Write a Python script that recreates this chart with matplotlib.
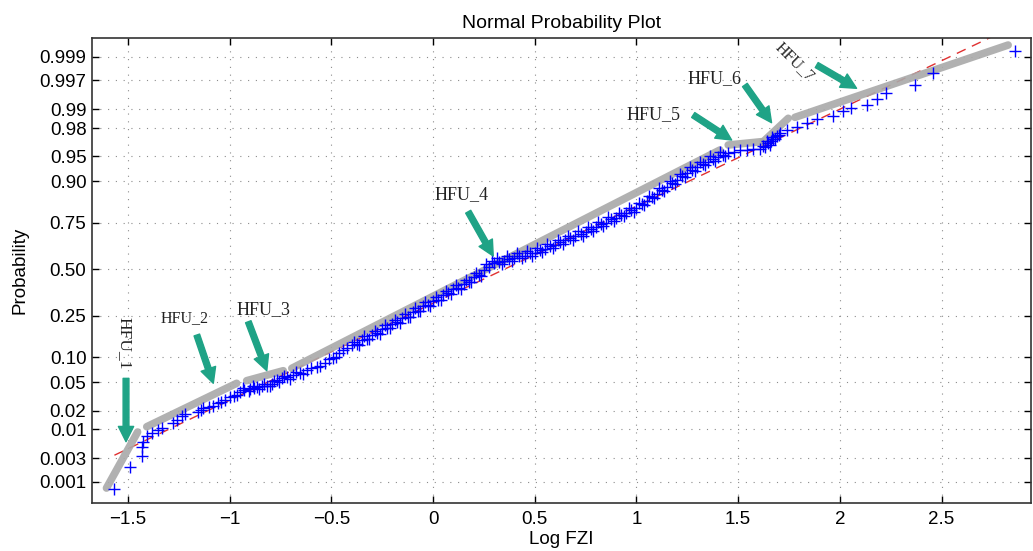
import math
import numpy as np
import matplotlib
matplotlib.use("Agg")
import matplotlib.pyplot as plt

# sample points: Log FZI and normal quantile (position on the probability axis)
lower_x = [-1.566, -1.489, -1.431, -1.431, -1.425, -1.404, -1.38, -1.35, -1.33,
           -1.276, -1.26, -1.235, -1.22, -1.153, -1.14, -1.129, -1.10, -1.08,
           -1.055, -1.04, -1.022, -0.998, -0.98, -0.965, -0.948, -0.93, -0.90,
           -0.88, -0.866, -0.84, -0.817, -0.79, -0.768, -0.74, -0.719, -0.69,
           -0.654, -0.62, -0.572, -0.53, -0.49, -0.46, -0.424]
lower_z = [-3.20, -2.88, -2.71, -2.58, -2.51, -2.43, -2.38, -2.34, -2.30,
           -2.24, -2.19, -2.13, -2.10, -2.07, -2.05, -2.02, -2.00, -1.99,
           -1.95, -1.93, -1.90, -1.86, -1.84, -1.83, -1.78, -1.76, -1.74,
           -1.73, -1.715, -1.70, -1.69, -1.66, -1.61, -1.58, -1.56, -1.54,
           -1.51, -1.47, -1.42, -1.36, -1.29, -1.22, -1.15]

# extra points in the dense stretch near 0.05
lower2_x = [-0.935, -0.905, -0.885, -0.855, -0.83, -0.80, -0.78, -0.755, -0.73,
            -0.705, -0.675, -0.64, -0.60, -0.555, -0.51, -0.475, -0.44]
lower2_z = [-1.73, -1.77, -1.70, -1.74, -1.66, -1.70, -1.62, -1.64, -1.55,
            -1.60, -1.49, -1.52, -1.43, -1.41, -1.30, -1.28, -1.17]

core_x = [-0.40, -0.375, -0.35, -0.325, -0.30, -0.275, -0.25, -0.225, -0.20,
          -0.175, -0.15, -0.125, -0.10, -0.075, -0.05, -0.025, 0.0, 0.025,
          0.05, 0.075, 0.10, 0.125, 0.15, 0.175, 0.20, 0.225, 0.25, 0.275,
          0.30, 0.325, 0.35, 0.375, 0.40, 0.425, 0.45, 0.475, 0.50, 0.525,
          0.55, 0.575, 0.60, 0.625, 0.65, 0.675, 0.70, 0.725, 0.75, 0.775,
          0.80, 0.825, 0.85, 0.875, 0.90, 0.925, 0.95, 0.975, 1.00, 1.025,
          1.05, 1.075, 1.10, 1.125, 1.15, 1.175, 1.20, 1.225, 1.25, 1.275,
          1.30, 1.325, 1.35, 1.375, 1.40, 1.425, 1.45]
core_z = [-1.10, -1.09, -1.03, -1.01, -0.95, -0.93, -0.87, -0.85, -0.79,
          -0.77, -0.71, -0.69, -0.62, -0.60, -0.54, -0.52, -0.46, -0.44,
          -0.38, -0.35, -0.29, -0.27, -0.21, -0.18, -0.11, -0.08, -0.01, 0.04,
          0.09, 0.11, 0.12, 0.15, 0.16, 0.19, 0.20, 0.23, 0.24, 0.28,
          0.30, 0.34, 0.36, 0.40, 0.42, 0.46, 0.48, 0.52, 0.54, 0.59,
          0.61, 0.66, 0.68, 0.73, 0.75, 0.79, 0.82, 0.86, 0.89, 0.95,
          0.99, 1.05, 1.10, 1.16, 1.20, 1.26, 1.30, 1.36, 1.40, 1.45,
          1.48, 1.53, 1.56, 1.61, 1.63, 1.66, 1.69]

# second row of the dense band, between the points above
core2_x = [-0.3875, -0.3625, -0.3375, -0.3125, -0.2875, -0.2625, -0.2375,
           -0.2125, -0.1875, -0.1625, -0.1375, -0.1125, -0.0875, -0.0625,
           -0.0375, -0.0125, 0.0125, 0.0375, 0.0625, 0.0875, 0.1125, 0.1375,
           0.1625, 0.1875, 0.2125, 0.2375, 0.2625, 0.2875, 0.3125, 0.3375,
           0.3625, 0.3875, 0.4125, 0.4375, 0.4625, 0.4875, 0.5125, 0.5375,
           0.5625, 0.5875, 0.6125, 0.6375, 0.6625, 0.6875, 0.7125, 0.7375,
           0.7625, 0.7875, 0.8125, 0.8375, 0.8625, 0.8875, 0.9125, 0.9375,
           0.9625, 0.9875, 1.0125, 1.0375, 1.0625, 1.0875, 1.1125, 1.1375,
           1.1625, 1.1875, 1.2125, 1.2375, 1.2625, 1.2875, 1.3125, 1.3375,
           1.3625, 1.3875, 1.4125, 1.4375]
core2_z = [-1.05, -1.10, -0.97, -1.02, -0.89, -0.94, -0.81, -0.86, -0.73,
           -0.78, -0.65, -0.70, -0.56, -0.61, -0.48, -0.53, -0.40, -0.45,
           -0.32, -0.36, -0.23, -0.28, -0.15, -0.19, -0.05, -0.09, 0.08,
           0.12, 0.16, 0.08, 0.19, 0.12, 0.23, 0.16, 0.27, 0.20, 0.31, 0.25,
           0.37, 0.31, 0.43, 0.37, 0.49, 0.43, 0.55, 0.49, 0.62, 0.56, 0.69,
           0.63, 0.76, 0.70, 0.82, 0.77, 0.89, 0.84, 0.97, 0.93, 1.07, 1.04,
           1.18, 1.14, 1.28, 1.24, 1.38, 1.34, 1.48, 1.43, 1.56, 1.51, 1.64,
           1.58, 1.70, 1.64]

upper_x = [1.48, 1.509, 1.541, 1.574, 1.607, 1.62, 1.63, 1.64, 1.646, 1.655,
           1.66, 1.665, 1.672, 1.68, 1.69, 1.70, 1.705, 1.738, 1.787, 1.836,
           1.885, 1.967, 2.016, 2.057, 2.131, 2.18, 2.229, 2.369, 2.459, 2.86]
upper_z = [1.71, 1.73, 1.74, 1.75, 1.75, 1.79, 1.78, 1.86, 1.83, 1.81,
           1.87, 1.92, 1.90, 1.89, 1.94, 1.95, 1.98, 2.02, 2.07, 2.13,
           2.18, 2.23, 2.30, 2.34, 2.39, 2.48, 2.56, 2.68, 2.85, 3.18]

# normal fit behind the dashed reference line
fit_mu = 0.35
fit_sigma = 0.709

# grey HFU segments (Log FZI start/end, quantile start/end)
seg_x0 = [-1.605, -1.407, -0.916, -0.694, 1.451, 1.623, 1.779]
seg_x1 = [-1.452, -0.965, -0.736, 1.410, 1.615, 1.746, 2.827]
seg_z0 = [-3.18, -2.288, -1.619, -1.439, 1.807, 1.855, 2.209]
seg_z1 = [-2.365, -1.657, -1.474, 1.734, 1.855, 2.195, 3.26]

prob_ticks = [0.001, 0.003, 0.01, 0.02, 0.05, 0.10, 0.25, 0.50, 0.75, 0.90,
              0.95, 0.98, 0.99, 0.997, 0.999]
prob_labels = ['0.001', '0.003', '0.01', '0.02', '0.05', '0.10', '0.25', '0.50',
               '0.75', '0.90', '0.95', '0.98', '0.99', '0.997', '0.999']
x_ticks = [-1.5, -1, -0.5, 0, 0.5, 1, 1.5, 2, 2.5]
x_labels = ['\u22121.5', '\u22121', '\u22120.5', '0', '0.5', '1', '1.5', '2', '2.5']


def norm_ppf(p):
    lo, hi = -10.0, 10.0
    for _ in range(80):
        mid = 0.5 * (lo + hi)
        if 0.5 * (1 + math.erf(mid / math.sqrt(2))) < p:
            lo = mid
        else:
            hi = mid
    return 0.5 * (lo + hi)


plt.rcParams['font.family'] = ['Liberation Sans', 'DejaVu Sans']
teal = '#1fa386'

fig = plt.figure(figsize=(10.33, 5.51), dpi=100)
ax = fig.add_axes([0.0891, 0.0871, 0.9089, 0.8439])

all_x = np.array(lower_x + lower2_x + core_x + core2_x + upper_x)
all_z = np.array(lower_z + lower2_z + core_z + core2_z + upper_z)

# reference line over the data range
ref_x = np.array([all_x.min(), all_x.max()])
ax.plot(ref_x, (ref_x - fit_mu) / fit_sigma, '--', color='#e03030', lw=1.0,
        dashes=(7, 5), zorder=2)

for x0, x1, z0, z1 in zip(seg_x0, seg_x1, seg_z0, seg_z1):
    ax.plot([x0, x1], [z0, z1], color='#a9a9a9', lw=5.5, alpha=0.9,
            solid_capstyle='round', zorder=3)

ax.plot(all_x, all_z, '+', color='#0000ff', ms=9, mew=1.0, zorder=4)

# labels and arrows
serif = ['Liberation Serif', 'DejaVu Serif']
notes = [
    ('HFU_1', -1.518, -1.076, -90, 12.5, -1.509, -1.585, -1.509, -2.506),
    ('HFU_2', -1.219, -0.703, 0, 11.5, -1.161, -0.955, -1.080, -1.657),
    ('HFU_3', -0.834, -0.581, 0, 13, -0.908, -0.762, -0.817, -1.474),
    ('HFU_4', 0.141, 1.08, 0, 13, 0.173, 0.837, 0.296, 0.193),
    ('HFU_5', 1.083, 2.243, 0, 13, 1.279, 2.243, 1.468, 1.879),
    ('HFU_6', 1.386, 2.776, 0, 13, 1.533, 2.679, 1.664, 2.131),
    ('HFU_7', 1.779, 3.017, -45, 11.5, 1.886, 2.969, 2.082, 2.631),
]
for name, tx, tz, rot, fs, ax0, az0, ax1, az1 in notes:
    ax.text(tx, tz, name, family=serif, fontsize=fs, rotation=rot,
            ha='center', va='center', color='#222222', zorder=6)
    ax.annotate('', xy=(ax1, az1), xytext=(ax0, az0),
                arrowprops=dict(arrowstyle='simple,head_length=1.0,head_width=1.0,tail_width=0.38',
                                color=teal, mutation_scale=11, shrinkA=0, shrinkB=0),
                zorder=6)

ax.set_xlim(-1.676, 2.939)
ax.set_ylim(-3.397, 3.362)
ax.set_xticks(x_ticks, x_labels)
ax.set_yticks([norm_ppf(p) for p in prob_ticks], prob_labels)
ax.tick_params(direction='in', top=True, right=True, length=5, width=1,
               labelsize=13.5, pad=4)
ax.tick_params(axis='x', pad=6)
ax.grid(True, linestyle=(0, (1, 6)), color='#8c8c8c', lw=0.8)
for s in ax.spines.values():
    s.set_linewidth(1.2)
    s.set_color('#333333')

ax.set_title('Normal Probability Plot', fontsize=14, pad=7)
ax.set_xlabel('Log FZI', fontsize=13.5, labelpad=2)
ax.set_ylabel('Probability', fontsize=13.5, labelpad=8)

fig.savefig('out.png', dpi=100)
